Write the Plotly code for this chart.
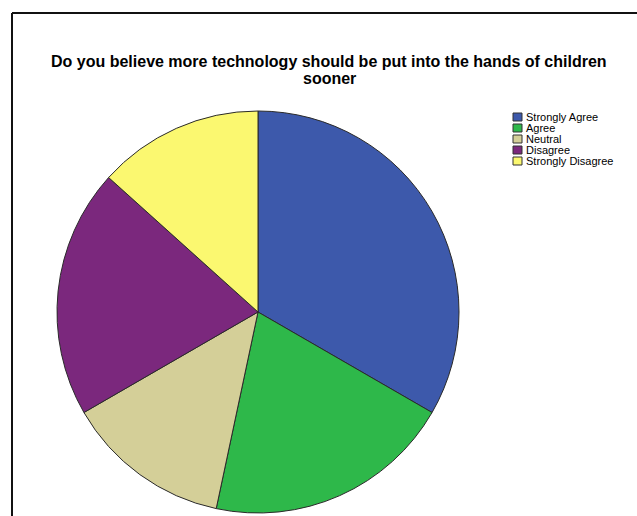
import plotly.graph_objects as go

W, H = 637, 516

# Survey responses
labels = ["Strongly Agree", "Agree", "Neutral", "Disagree", "Strongly Disagree"]
counts = [5, 3, 2, 3, 2]
colors = ["#3D59AB", "#2EB84A", "#D4CF98", "#7B287D", "#FBF870"]

title_lines = ["Do you believe more technology should be put into the hands of children",
               "sooner"]


def px_x(x):
    return x / W


def px_y(y):
    return 1 - y / H


fig = go.Figure(
    go.Pie(
        labels=labels,
        values=counts,
        sort=False,
        direction="clockwise",
        rotation=0,
        marker=dict(colors=colors, line=dict(color="#2a2a2a", width=1)),
        textinfo="none",
        hoverinfo="label+value+percent",
        showlegend=False,
        domain=dict(x=[px_x(57), px_x(459)], y=[px_y(513), px_y(111)]),
    )
)

shapes = [
    # frame (left and top edges)
    dict(type="line", xref="paper", yref="paper",
         x0=px_x(12), x1=px_x(12), y0=px_y(13), y1=px_y(520),
         line=dict(color="#111", width=2)),
    dict(type="line", xref="paper", yref="paper",
         x0=px_x(12), x1=px_x(640), y0=px_y(13), y1=px_y(13),
         line=dict(color="#111", width=2)),
]

# title, one annotation per line for tight line spacing
annotations = []
for line, cy in zip(title_lines, [62, 78.5]):
    annotations.append(dict(text="<b>" + line + "</b>", xref="paper", yref="paper",
                             x=px_x(329), y=px_y(cy), xanchor="center", yanchor="middle",
                             showarrow=False,
                             font=dict(family="Liberation Sans, Arial", size=16, color="#000")))

# legend entries
leg_x, leg_y0, leg_step = 513, 117, 11
for i, (lab, col) in enumerate(zip(labels, colors)):
    cy = leg_y0 + i * leg_step
    shapes.append(dict(type="rect", xref="paper", yref="paper",
                       x0=px_x(leg_x), x1=px_x(leg_x + 9),
                       y0=px_y(cy - 4), y1=px_y(cy + 4),
                       fillcolor=col, line=dict(color="#333", width=1)))
    annotations.append(dict(text=lab, xref="paper", yref="paper",
                            x=px_x(leg_x + 11), y=px_y(cy),
                            xanchor="left", yanchor="middle", showarrow=False,
                            font=dict(family="Liberation Sans, Arial", size=11, color="#000")))

fig.update_layout(
    width=W, height=H,
    margin=dict(l=0, r=0, t=0, b=0),
    paper_bgcolor="white", plot_bgcolor="white",
    shapes=shapes, annotations=annotations,
)

fig.write_html("out.html")
